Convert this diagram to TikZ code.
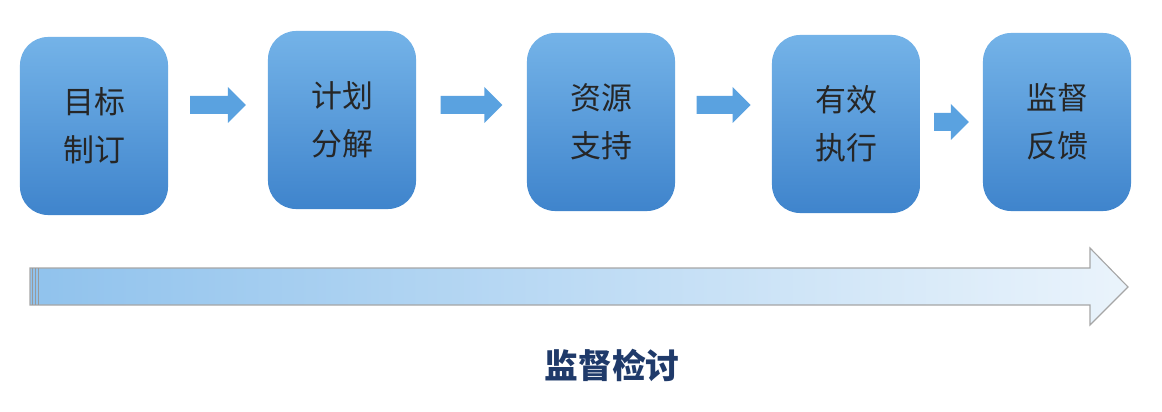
\documentclass[tikz,border=0pt]{standalone}
\usepackage{fontspec}
\setmainfont{Noto Sans CJK SC}
\usetikzlibrary{positioning,calc}
\definecolor{boxtop}{HTML}{74B3E8}
\definecolor{boxbot}{HTML}{3F84CC}
\definecolor{stepblue}{HTML}{5AA2E0}
\definecolor{navy}{HTML}{1F3A6A}
\tikzset{
  stepbox/.style={rounded corners=20pt,top color=boxtop,bottom color=boxbot,
    draw=none,minimum width=3.7cm,minimum height=4.45cm,align=center,
    font=\fontsize{22}{34}\selectfont,text=black!85},
}
\begin{document}
\begin{tikzpicture}[x=0.025cm,y=-0.025cm]
\useasboundingbox (0,0) rectangle (1162,412);

% steps
\node[stepbox] (goal) at (94,126) {目标\\制订};
\node[stepbox] (plan) at (342,120) {计划\\分解};
\node[stepbox] (res)  at (601,122) {资源\\支持};
\node[stepbox] (exec) at (846,124) {有效\\执行};
\node[stepbox] (fb)   at (1057,122) {监督\\反馈};

% small arrows between steps
\foreach \a/\b/\y in {goal/plan/105,plan/res/105,res/exec/105,exec/fb/122}{
  \coordinate (s) at ($(\a.east)!0.22!(\b.west)$);
  \coordinate (e) at ($(\a.east)!0.78!(\b.west)$);
  \fill[stepblue] (s|-0,\y-9) -- ($(e|-0,\y-9)+(-18,0)$) -- ($(e|-0,\y-18)+(-18,0)$)
    -- (e|-0,\y) -- ($(e|-0,\y+18)+(-18,0)$) -- ($(e|-0,\y+9)+(-18,0)$) -- (s|-0,\y+9) -- cycle;
}

% long arrow
\shade[left color=boxtop!80,right color=boxtop!15,draw=gray!70,line width=0.8pt]
  (30,268) -- (1090,268) -- (1090,248) -- (1128,287) -- (1090,325) -- (1090,305)
  -- (30,305) -- cycle;
\foreach \x in {32,35,38}
  \draw[gray!80,line width=0.6pt] (\x,268) -- (\x,305);

\node[font=\bfseries\fontsize{24}{28}\selectfont,text=navy] (review) at (612,365) {监督检讨};
\end{tikzpicture}
\end{document}
